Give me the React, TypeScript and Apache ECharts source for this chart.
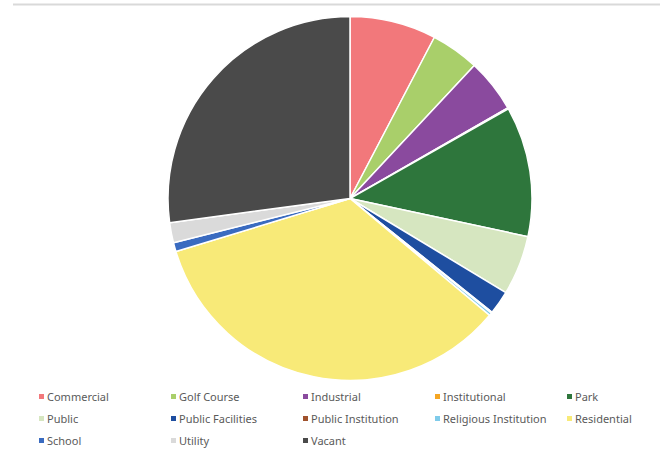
import React, { useEffect, useRef } from "react";
import * as echarts from "echarts";

const categories = [
  "Commercial", "Golf Course", "Industrial", "Institutional", "Park",
  "Public", "Public Facilities", "Public Institution", "Religious Institution", "Residential",
  "School", "Utility", "Vacant",
];
const values = [7.7, 4.3, 4.75, 0.1, 11.6, 5.3, 2.1, 0.1, 0.25, 34.3, 0.8, 1.8, 27.2];
const colors = [
  "#F2787B", "#A9CF6A", "#8A4A9E", "#F5A623", "#2E763C",
  "#D6E6C0", "#1E4EA0", "#A0522D", "#7FCBEA", "#F8EA78",
  "#3A6BC0", "#DADADA", "#4A4A4A",
];

export default function App() {
  const ref = useRef<HTMLDivElement>(null);
  useEffect(() => {
    if (!ref.current) return;
    const chart = echarts.init(ref.current, undefined, { renderer: "svg" });
    const legends = categories.map((name, i) => ({
      show: true,
      data: [name],
      left: 39 + (i % 5) * 132,
      top: 391 + Math.floor(i / 5) * 22,
      icon: "rect",
      itemWidth: 5,
      itemHeight: 5,
      selectedMode: false,
      padding: 0,
      itemStyle: { borderWidth: 0 },
      textStyle: { color: "#5a5a5a", fontSize: 11, fontFamily: "Noto Sans", padding: [0, 0, 0, -2] },
    }));
    chart.setOption({
      animation: false,
      backgroundColor: "#ffffff",
      color: colors,
      legend: legends,
      graphic: [
        {
          type: "line",
          shape: { x1: 13, y1: 4.5, x2: 660, y2: 4.5 },
          style: { stroke: "#d9d9d9", lineWidth: 2 },
        },
      ],
      series: [
        {
          type: "pie",
          center: [350, 198.5],
          radius: [0, 182],
          startAngle: 90,
          clockwise: true,
          label: { show: false },
          labelLine: { show: false },
          itemStyle: { borderColor: "#ffffff", borderWidth: 1.5 },
          emphasis: { disabled: true },
          data: categories.map((name, i) => ({ name, value: values[i] })),
        },
      ],
    });
    return () => chart.dispose();
  }, []);
  return <div ref={ref} style={{ width: 668, height: 457, position: "absolute", left: 0, top: 0 }} />;
}
